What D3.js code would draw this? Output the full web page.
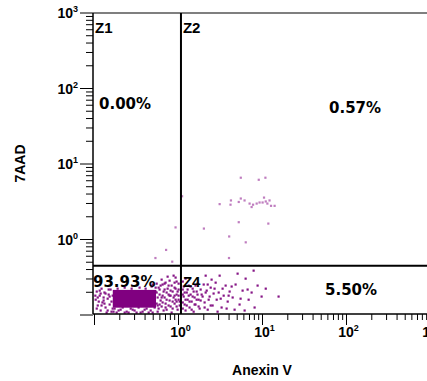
<!DOCTYPE html>
<html>
<head>
<meta charset="utf-8">
<script src="https://cdn.jsdelivr.net/npm/d3@7"></script>
<style>
  body { margin: 0; background: #fff; }
  svg { display: block; }
  text { font-family: "Liberation Sans", Arial, sans-serif; font-weight: bold; fill: #000; }
  .pct { font-family: "DejaVu Sans", Verdana, sans-serif; font-size: 15px; }
</style>
</head>
<body>
<svg id="chart" width="427" height="381"></svg>
<script>
// tick decades (10^n) shown on each axis
var xTickExps = [0, 1, 2, 3];
var yTickExps = [0, 1, 2, 3];

// quadrant gates
var gateAnnexin = 1.07;
var gate7AAD = 0.45;

var quadrantNames = ["Z1", "Z2", "Z4"];
var quadrantPercents = ["0.00%", "0.57%", "93.93%", "5.50%"];

// solid dense core of the live population
var coreAnnexin = [0.165, 0.54];
var core7AAD = [0.125, 0.215];

// single events [Annexin V, 7AAD]
var events = [
  [0.103,0.160],[0.109,0.134],[0.115,0.181],[0.118,0.115],[0.124,0.147],[0.131,0.199],
  [0.135,0.126],[0.143,0.165],[0.151,0.138],[0.155,0.218],[0.159,0.111],[0.106,0.205],
  [0.128,0.171],[0.139,0.108],[0.147,0.187],[0.164,0.122],[0.112,0.151],[0.121,0.224],
  [0.102,0.181],[0.106,0.122],[0.115,0.211],[0.121,0.134],[0.128,0.156],[0.135,0.193],
  [0.143,0.115],[0.151,0.176],[0.159,0.151],[0.109,0.171],[0.118,0.193],[0.131,0.142],
  [0.147,0.218],[0.164,0.181],
  [0.188,0.224],[0.228,0.231],[0.276,0.224],[0.343,0.231],[0.405,0.224],[0.478,0.239],
  [0.173,0.122],[0.193,0.115],[0.216,0.126],[0.241,0.111],[0.269,0.122],[0.299,0.115],
  [0.334,0.126],[0.373,0.111],[0.416,0.122],[0.465,0.115],[0.518,0.126],[0.183,0.108],
  [0.254,0.108],[0.353,0.108],[0.491,0.108],[0.168,0.111],[0.204,0.118],[0.228,0.108],
  [0.284,0.118],[0.316,0.108],[0.394,0.118],[0.440,0.108],
  [0.533,0.205],[0.563,0.171],[0.548,0.142],[0.578,0.231],[0.594,0.187],[0.611,0.156],
  [0.628,0.130],[0.645,0.254],[0.663,0.205],[0.681,0.171],[0.700,0.142],[0.720,0.118],
  [0.740,0.224],[0.760,0.187],[0.781,0.286],[0.781,0.156],[0.803,0.130],[0.826,0.246],
  [0.849,0.205],[0.872,0.171],[0.896,0.142],[0.921,0.314],[0.921,0.224],[0.947,0.187],
  [0.973,0.118],[1.00,0.261],[1.00,0.160],[0.563,0.111],[0.628,0.295],[0.700,0.269],
  [0.826,0.108],[0.872,0.333],[0.740,0.323],[0.663,0.115],[0.594,0.138],[0.973,0.205],
  [0.947,0.151],[0.803,0.181],[0.681,0.218],[0.896,0.269],[1.03,0.134],[0.548,0.261],
  [0.491,0.254],[0.518,0.160],[0.548,0.199],[0.578,0.122],[0.611,0.246],[0.645,0.181],
  [0.645,0.147],[0.681,0.261],[0.720,0.199],[0.720,0.160],[0.760,0.134],[0.760,0.246],
  [0.803,0.211],[0.849,0.151],[0.849,0.122],[0.896,0.231],[0.896,0.181],[0.947,0.278],
  [0.947,0.130],[1.00,0.218],[1.00,0.181],[1.03,0.151],[0.504,0.187],[0.533,0.231],
  [0.563,0.134],[0.594,0.218],[0.628,0.171],[0.700,0.126],[0.781,0.181],[0.921,0.160],
  [1.12,0.218],[1.15,0.176],[1.18,0.138],[1.21,0.115],[1.25,0.199],[1.28,0.160],
  [1.32,0.246],[1.35,0.126],[1.39,0.187],[1.43,0.151],[1.47,0.224],[1.51,0.111],
  [1.55,0.171],[1.59,0.138],[1.64,0.205],[1.68,0.261],[1.73,0.160],[1.78,0.122],
  [1.12,0.278],[1.21,0.304],[1.88,0.187],[1.99,0.254],[2.04,0.147],[2.16,0.211],
  [2.22,0.118],[2.34,0.176],[2.47,0.295],[2.54,0.134],[2.68,0.224],[2.84,0.160],
  [3.00,0.199],[3.08,0.333],[3.25,0.126],[3.44,0.181],[3.63,0.246],[3.84,0.151],
  [4.05,0.205],[2.10,0.333],[2.91,0.111],[2.41,0.231],[4.40,0.171],[4.77,0.254],
  [5.32,0.138],[5.78,0.211],[6.28,0.304],[6.82,0.160],[7.40,0.199],[8.03,0.126],
  [8.72,0.246],[9.73,0.176],[10.9,0.224],[5.04,0.354],[7.82,0.388],[6.11,0.115],
  [4.64,0.118],[15.5,0.176],
  [1.12,0.187],[1.12,0.147],[1.12,0.122],[1.15,0.239],[1.18,0.199],[1.21,0.160],
  [1.25,0.134],[1.28,0.218],[1.32,0.181],[1.35,0.151],[1.39,0.239],[1.43,0.118],
  [1.47,0.176],[1.51,0.205],[1.55,0.138],[1.59,0.246],[1.64,0.160],[1.68,0.187],
  [1.73,0.130],[1.83,0.218],[1.83,0.156],[1.93,0.176],[2.04,0.126],[2.10,0.199],
  [2.22,0.254],[2.28,0.160],[2.41,0.134],[2.61,0.193],[2.76,0.269],[3.17,0.165],
  [3.34,0.224],[3.73,0.122],[3.94,0.181],[4.28,0.239],[5.47,0.165],[6.63,0.218],
  [5.5,6.6],[10.8,6.6],[9.0,6.2],[5.5,3.5],[4.2,3.3],[6.1,3.3],[5.2,3.15],[7.0,3.0],
  [7.7,2.9],[8.5,3.0],[9.2,3.1],[10.0,3.1],[10.9,3.2],[12.1,3.3],[10.4,3.6],[7.4,2.7],
  [11.4,3.0],[12.6,2.8],[13.9,2.8],[3.08,2.95],[4.15,2.9],[1.1,3.75],[5.2,1.7],
  [11.7,1.63],[2.0,1.4],[0.92,1.45],[4.0,1.1],[6.3,0.92],[0.71,0.73],[0.53,0.57],
  [0.84,0.51],[3.98,0.57]
];

var svg = d3.select("#chart");
var plotLeft = 93, plotTop = 13, plotBottom = 314, plotRight = 427;

var x = d3.scaleLog().domain([0.1, 1000]).range([94.5, 430.5]);
var y = d3.scaleLog().domain([0.1, 1000]).range([315, 13]);

// log minor/major tick values
var tickVals = [];
for (var d = -1; d <= 2; d++) {
  for (var k = 1; k <= 9; k++) tickVals.push(k * Math.pow(10, d));
}
tickVals.push(1000);
function isMajor(v) { return Math.abs(Math.log10(v) - Math.round(Math.log10(v))) < 1e-6; }

// events
svg.append("g").selectAll("rect")
  .data(events)
  .enter().append("rect")
  .attr("x", function(d) { return x(d[0]) - 1; })
  .attr("y", function(d) { return y(d[1]) - 1; })
  .attr("width", 2.2).attr("height", 2.2)
  .attr("fill", function(d) { return d[1] > gate7AAD ? "#b466b4" : "#861686"; })
  .attr("opacity", function(d) { return d[1] > gate7AAD ? 0.85 : 1; });

svg.append("rect")
  .attr("x", x(coreAnnexin[0]))
  .attr("y", y(core7AAD[1]))
  .attr("width", x(coreAnnexin[1]) - x(coreAnnexin[0]))
  .attr("height", y(core7AAD[0]) - y(core7AAD[1]))
  .attr("fill", "#800080");

// frame
svg.append("line").attr("x1", plotLeft).attr("x2", plotRight).attr("y1", plotTop).attr("y2", plotTop)
  .attr("stroke", "#555").attr("stroke-width", 1.5);
svg.append("line").attr("x1", plotLeft).attr("x2", plotLeft).attr("y1", plotTop).attr("y2", plotBottom)
  .attr("stroke", "#000").attr("stroke-width", 1.5);
svg.append("line").attr("x1", plotLeft).attr("x2", plotRight).attr("y1", plotBottom).attr("y2", plotBottom)
  .attr("stroke", "#000").attr("stroke-width", 1.5);

// gates
var gx = x(gateAnnexin), gy = y(gate7AAD);
svg.append("line").attr("x1", gx).attr("x2", gx)
  .attr("y1", plotTop).attr("y2", plotBottom).attr("stroke", "#000").attr("stroke-width", 2);
svg.append("line").attr("x1", plotLeft).attr("x2", plotRight)
  .attr("y1", gy).attr("y2", gy).attr("stroke", "#000").attr("stroke-width", 2);

// y ticks
svg.append("g").selectAll("line")
  .data(tickVals.filter(function(v) { return y(v) <= plotBottom + 1; }))
  .enter().append("line")
  .attr("x1", function(v) { return isMajor(v) ? plotLeft - 13 : plotLeft - 7; })
  .attr("x2", plotLeft)
  .attr("y1", function(v) { return y(v); })
  .attr("y2", function(v) { return y(v); })
  .attr("stroke", "#000").attr("stroke-width", 1);

// x ticks
svg.append("g").selectAll("line")
  .data(tickVals.filter(function(v) { return x(v) > plotLeft + 1; }))
  .enter().append("line")
  .attr("x1", function(v) { return x(v); })
  .attr("x2", function(v) { return x(v); })
  .attr("y1", plotBottom)
  .attr("y2", function(v) { return isMajor(v) ? plotBottom + 11 : plotBottom + 6; })
  .attr("stroke", "#000").attr("stroke-width", 1);

// tick labels
var yl = svg.append("g").selectAll("text")
  .data(yTickExps).enter().append("text")
  .attr("x", plotLeft - 15)
  .attr("y", function(e) { return y(Math.pow(10, e)) + 5; })
  .attr("text-anchor", "end")
  .style("font-size", "14px");
yl.append("tspan").text("10");
yl.append("tspan").attr("dy", -6).style("font-size", "9px")
  .text(function(e) { return e; });

var xl = svg.append("g").selectAll("text")
  .data(xTickExps).enter().append("text")
  .attr("x", function(e) { return x(Math.pow(10, e)) + 2; })
  .attr("y", plotBottom + 23)
  .attr("text-anchor", "middle")
  .style("font-size", "14px");
xl.append("tspan").text("10");
xl.append("tspan").attr("dy", -6).style("font-size", "9px")
  .text(function(e) { return e; });

// axis titles
svg.append("text")
  .attr("transform", "translate(25," + ((plotTop + plotBottom) / 2) + ") rotate(-90)")
  .attr("text-anchor", "middle")
  .style("font-size", "14px")
  .text("7AAD");
svg.append("text")
  .attr("x", (plotLeft + 431) / 2).attr("y", 375)
  .attr("text-anchor", "middle")
  .style("font-size", "14px")
  .text("Anexin V");

// quadrant names
var namePos = [[plotLeft + 2, plotTop + 20], [gx + 2, plotTop + 20], [gx + 2, gy + 21]];
svg.append("g").selectAll("text")
  .data(quadrantNames).enter().append("text")
  .attr("x", function(d, i) { return namePos[i][0]; })
  .attr("y", function(d, i) { return namePos[i][1]; })
  .style("font-size", "15px")
  .text(function(d) { return d; });

// quadrant percentages
var pctPos = [[99, 109], [329, 113], [93, 287], [325, 295]];
svg.append("g").selectAll("text")
  .data(quadrantPercents).enter().append("text")
  .attr("class", "pct")
  .attr("x", function(d, i) { return pctPos[i][0]; })
  .attr("y", function(d, i) { return pctPos[i][1]; })
  .text(function(d) { return d; });
</script>
</body>
</html>
